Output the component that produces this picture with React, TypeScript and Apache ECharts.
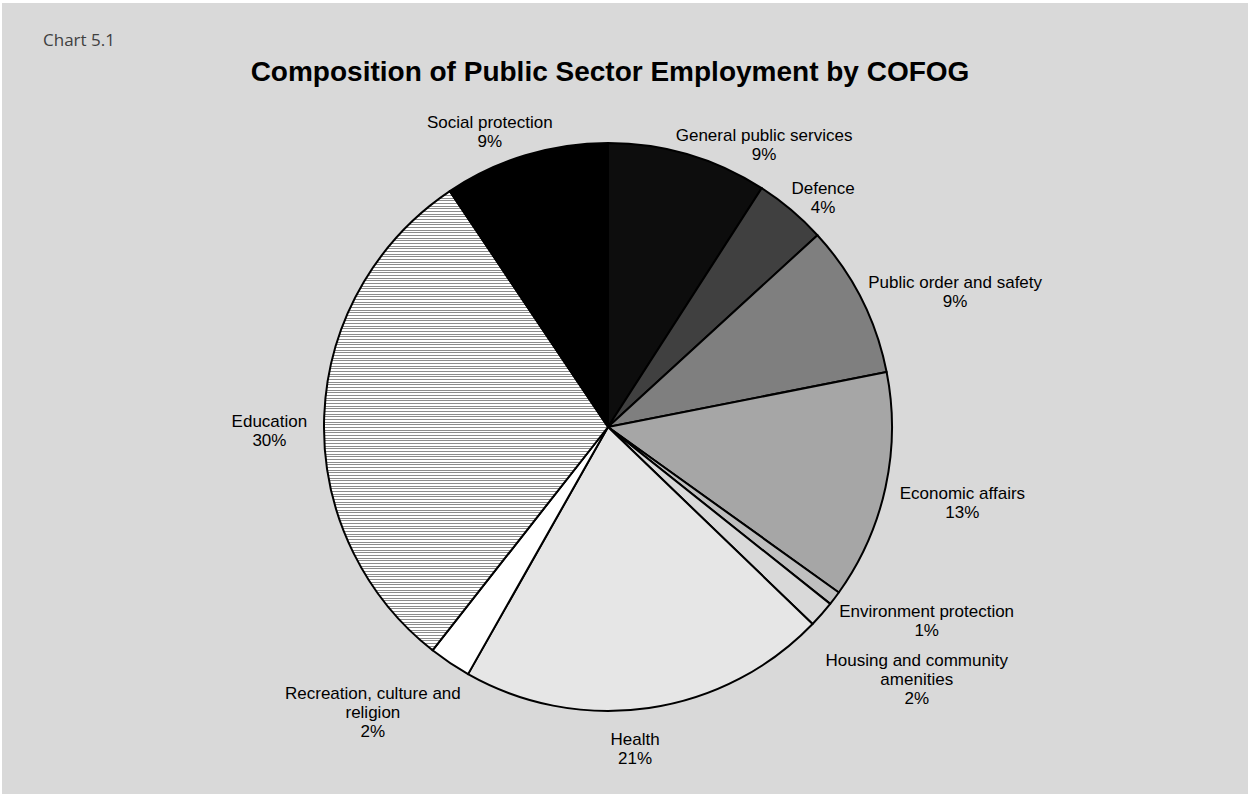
import React, { useEffect, useRef } from "react";
import * as echarts from "echarts";

// ---- data ----
const categories = [
  "General public services",
  "Defence",
  "Public order and safety",
  "Economic affairs",
  "Environment protection",
  "Housing and community\namenities",
  "Health",
  "Recreation, culture and\nreligion",
  "Education",
  "Social protection",
];
const shares = [9.1, 4.1, 8.7, 13.0, 0.8, 1.5, 21.0, 2.4, 30.0, 9.4];
const chartNumber = "Chart 5.1";
const chartTitle = "Composition of Public Sector Employment by COFOG";

// ---- styling / layout ----
const fills = [
  "#0d0d0d",
  "#404040",
  "#7f7f7f",
  "#a6a6a6",
  "#bfbfbf",
  "#d9d9d9",
  "#e6e6e6",
  "#ffffff",
  "HATCH",
  "#000000",
];
// label nudges relative to the computed outside anchor
const labelNudge: [number, number][] = [
  [46, 26],
  [0, 16],
  [0, 10],
  [-2, 8],
  [8, 0],
  [13, 35],
  [-20, 4],
  [-18, 11],
  [1, 16],
  [-12, 12],
];
const CX = 606;
const CY = 424;
const R = 284;
const GAP = 18;

function makeHatch(): HTMLCanvasElement {
  const c = document.createElement("canvas");
  c.width = 8;
  c.height = 8;
  const ctx = c.getContext("2d")!;
  ctx.fillStyle = "#ffffff";
  ctx.fillRect(0, 0, 8, 8);
  ctx.fillStyle = "#8c8c8c";
  [0, 3, 5].forEach((y) => ctx.fillRect(0, y, 8, 1));
  return c;
}

export default function App() {
  const ref = useRef<HTMLDivElement>(null);
  useEffect(() => {
    if (!ref.current) return;
    const chart = echarts.init(ref.current, undefined, { renderer: "svg" });
    const hatch = makeHatch();
    const total = shares.reduce((a, b) => a + b, 0);
    const cum: number[] = [];
    let acc = 0;
    shares.forEach((v) => {
      cum.push(acc);
      acc += v;
    });
    const data = categories.map((name, i) => ({
      name,
      value: shares[i],
      itemStyle: {
        color:
          fills[i] === "HATCH"
            ? { image: hatch, repeat: "repeat" }
            : fills[i],
      },
    }));
    chart.setOption({
      animation: false,
      backgroundColor: "#d9d9d9",
      graphic: [
        {
          type: "text",
          left: 41,
          top: 28,
          style: {
            text: chartNumber,
            font: "17px 'Open Sans', sans-serif",
            fill: "#404040",
          },
        },
        {
          type: "text",
          x: CX + 2,
          y: 68,
          style: {
            text: chartTitle,
            font: "bold 28px 'Liberation Sans', Arial, sans-serif",
            fill: "#000000",
            align: "center",
            verticalAlign: "middle",
          },
        },
      ],
      series: [
        {
          type: "pie",
          center: [CX, CY],
          radius: [0, R],
          startAngle: 90,
          clockwise: true,
          avoidLabelOverlap: false,
          data,
          itemStyle: { borderColor: "#000000", borderWidth: 2 },
          emphasis: { disabled: true },
          labelLine: { show: false },
          label: {
            show: true,
            position: "outside",
            fontFamily: "'Liberation Sans', Arial, sans-serif",
            fontSize: 17,
            lineHeight: 19,
            color: "#000000",
            formatter: (p: any) => `${p.name}\n${Math.round(p.value)}%`,
          },
          labelLayout: (params: any) => {
            const i = params.dataIndex;
            const mid = ((cum[i] + shares[i] / 2) / total) * Math.PI * 2;
            const sx = Math.sin(mid);
            const sy = -Math.cos(mid);
            const w = params.labelRect.width;
            const h = params.labelRect.height;
            const d = R + GAP;
            return {
              x: CX + d * sx + (sx * w) / 2 + labelNudge[i][0],
              y: CY + d * sy + (sy * h) / 2 + labelNudge[i][1],
              align: "center",
              verticalAlign: "middle",
            };
          },
        },
      ],
    });
    return () => chart.dispose();
  }, []);
  return (
    <div
      style={{
        position: "fixed",
        left: 0,
        top: 0,
        width: 1248,
        height: 794,
        background: "#ffffff",
      }}
    >
      <div
        ref={ref}
        style={{ position: "absolute", left: 2, top: 3, width: 1246, height: 791 }}
      />
    </div>
  );
}
